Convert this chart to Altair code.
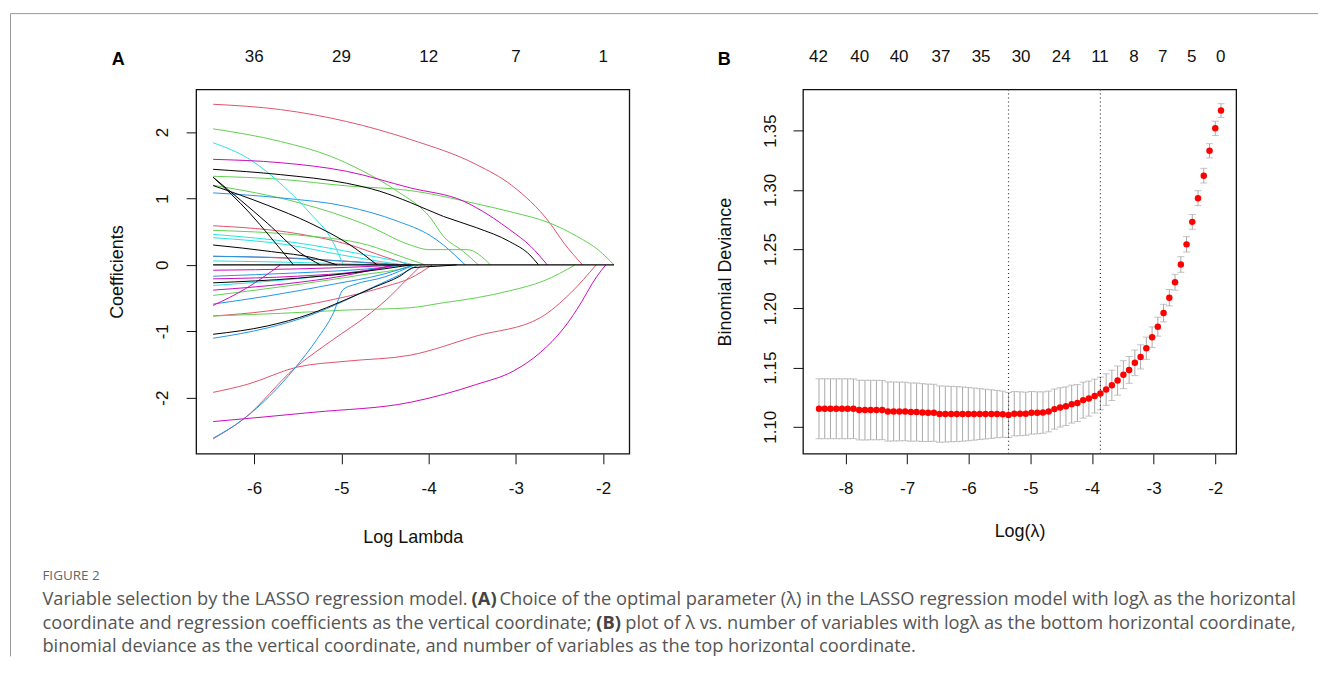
import altair as alt
import pandas as pd

# ---------------- Panel A: LASSO coefficient paths (log lambda, coefficient) ----------------
RED_PATHS = [
    [(-6.47, 2.42), (-5.70, 2.34), (-4.94, 2.16), (-4.21, 1.89), (-3.45, 1.51), (-3.05, 1.20), (-2.61, 0.63), (-2.45, 0.33), (-2.235, 0.0)],
    [(-6.47, 0.59), (-5.50, 0.47), (-4.90, 0.30), (-4.50, 0.12), (-4.22, 0.0)],
    [(-6.47, 0.13), (-5.80, 0.11), (-5.00, 0.06), (-4.25, 0.0)],
    [(-6.47, -1.92), (-6.08, -1.80), (-5.51, -1.54), (-4.94, -1.45), (-4.21, -1.36), (-3.45, -1.07), (-2.72, -0.795), (-2.37, -0.42), (-2.08, 0.0)],
    [(-6.47, -2.62), (-6.12, -2.32), (-5.53, -1.55), (-5.09, -1.12), (-4.71, -0.77), (-4.48, -0.52), (-4.25, -0.22), (-4.08, 0.0)],
    [(-6.47, -0.77), (-5.85, -0.695), (-5.09, -0.52), (-4.48, -0.32), (-4.21, -0.20), (-3.96, 0.0)],
]
GREEN_PATHS = [
    [(-6.47, 2.05), (-5.70, 1.86), (-5.13, 1.64), (-4.75, 1.41), (-4.36, 1.11), (-3.98, 0.71), (-3.83, 0.43), (-3.60, 0.20), (-3.43, 0.0)],
    [(-6.47, 1.335), (-5.70, 1.29), (-4.94, 1.19), (-4.21, 1.12), (-3.45, 0.92), (-3.03, 0.79), (-2.61, 0.63), (-2.30, 0.43), (-2.05, 0.22), (-1.875, 0.0)],
    [(-6.47, 1.20), (-5.47, 0.93), (-4.71, 0.60), (-4.21, 0.30), (-4.00, 0.23), (-3.56, 0.23), (-3.29, 0.0)],
    [(-6.47, 0.52), (-5.50, 0.45), (-4.70, 0.30), (-4.30, 0.12), (-4.04, 0.0)],
    [(-6.47, -0.77), (-5.70, -0.73), (-4.94, -0.68), (-4.21, -0.645), (-3.83, -0.57), (-3.45, -0.495), (-3.07, -0.39), (-2.68, -0.24), (-2.32, 0.0)],
    [(-6.47, -0.46), (-5.47, -0.29), (-4.71, -0.14), (-4.25, -0.04), (-4.15, 0.0)],
]
BLUE_PATHS = [
    [(-6.47, 1.085), (-5.70, 1.01), (-4.94, 0.88), (-4.36, 0.66), (-3.98, 0.44), (-3.83, 0.30), (-3.71, 0.16), (-3.58, 0.0)],
    [(-6.47, 0.13), (-5.50, 0.10), (-4.80, 0.04), (-4.40, 0.0)],
    [(-6.47, -2.61), (-6.12, -2.32), (-5.53, -1.55), (-5.28, -1.12), (-5.09, -0.72), (-4.98, -0.37), (-4.86, -0.30), (-4.50, -0.18), (-4.17, 0.0)],
    [(-6.47, -1.105), (-5.85, -0.95), (-5.36, -0.76), (-4.98, -0.55), (-4.63, -0.33), (-4.33, -0.15), (-4.12, 0.0)],
    [(-6.47, -0.59), (-5.85, -0.47), (-5.09, -0.29), (-4.52, -0.14), (-4.17, 0.0)],
    [(-6.47, -0.17), (-5.50, -0.12), (-4.70, -0.06), (-4.25, 0.0)],
]
CYAN_PATHS = [
    [(-6.47, 1.84), (-6.05, 1.59), (-5.66, 1.18), (-5.36, 0.78), (-5.09, 0.33), (-4.98, 0.0)],
    [(-6.47, 0.46), (-5.50, 0.33), (-4.80, 0.17), (-4.30, 0.04), (-4.16, 0.0)],
    [(-6.47, 0.41), (-5.60, 0.30), (-5.00, 0.15), (-4.50, 0.04), (-4.30, 0.0)],
    [(-6.47, 0.06), (-5.60, 0.04), (-4.80, 0.01), (-4.50, 0.0)],
    [(-6.47, -0.31), (-5.60, -0.22), (-4.90, -0.12), (-4.30, 0.0)],
]
MAGENTA_PATHS = [
    [(-6.47, 1.59), (-5.70, 1.54), (-4.94, 1.41), (-4.21, 1.16), (-3.60, 0.96), (-3.45, 0.86), (-3.07, 0.53), (-2.83, 0.28), (-2.64, 0.0)],
    [(-6.47, -2.36), (-5.32, -2.22), (-4.21, -2.07), (-3.45, -1.80), (-3.03, -1.60), (-2.72, -1.32), (-2.45, -0.95), (-2.30, -0.67), (-2.07, -0.17), (-1.97, 0.0)],
    [(-6.47, -0.61), (-6.10, -0.36), (-5.70, 0.0)],
    [(-6.47, -0.08), (-5.50, -0.06), (-4.80, -0.03), (-4.30, 0.0)],
    [(-6.47, -0.21), (-5.50, -0.17), (-4.80, -0.10), (-4.35, 0.0)],
    [(-6.47, -0.38), (-5.60, -0.28), (-5.00, -0.17), (-4.40, 0.0)],
]
BLACK_PATHS = [
    [(-6.47, 1.44), (-5.70, 1.36), (-4.94, 1.23), (-4.56, 1.11), (-4.21, 0.94), (-3.83, 0.73), (-3.45, 0.56), (-3.07, 0.35), (-2.84, 0.15), (-2.74, 0.0)],
    [(-6.47, 1.32), (-6.05, 0.78), (-5.82, 0.43), (-5.55, 0.0)],
    [(-6.47, 1.32), (-5.85, 0.63), (-5.47, 0.18), (-5.24, 0.0)],
    [(-6.47, 1.195), (-5.85, 0.90), (-5.36, 0.63), (-4.90, 0.30), (-4.59, 0.0)],
    [(-6.47, 0.30), (-5.80, 0.20), (-5.30, 0.10), (-5.05, 0.0)],
    [(-6.47, -1.045), (-5.85, -0.92), (-5.36, -0.74), (-4.98, -0.54), (-4.63, -0.34), (-4.33, -0.17), (-4.17, -0.04), (-3.90, -0.02), (-3.68, 0.0)],
    [(-6.47, -0.27), (-5.50, -0.20), (-4.80, -0.11), (-4.20, 0.0)],
]
ZERO_SPAN = [-6.47, -1.875]

PATH_COLORS = {
    "red": "#DF536B", "green": "#61D04F", "blue": "#2297E6",
    "cyan": "#28E2E5", "magenta": "#CD0BBC", "black": "#000000",
}

TOP_A_POS = [-6, -5, -4, -3, -2]
TOP_A_LABELS = ["36", "29", "12", "7", "1"]

# ---------------- Panel B: cross-validated binomial deviance ----------------
LOG_LAMBDA = [
    -1.906, -1.999, -2.092, -2.186, -2.279, -2.372, -2.465, -2.558, -2.652, -2.745,
    -2.838, -2.931, -3.024, -3.118, -3.211, -3.304, -3.397, -3.490, -3.584, -3.677,
    -3.770, -3.863, -3.956, -4.050, -4.143, -4.236, -4.329, -4.422, -4.516, -4.609,
    -4.702, -4.795, -4.888, -4.982, -5.075, -5.168, -5.261, -5.354, -5.448, -5.541,
    -5.634, -5.727, -5.820, -5.914, -6.007, -6.100, -6.193, -6.286, -6.380, -6.473,
    -6.566, -6.659, -6.752, -6.846, -6.939, -7.032, -7.125, -7.218, -7.312, -7.405,
    -7.498, -7.591, -7.684, -7.778, -7.871, -7.964, -8.057, -8.150, -8.244, -8.337,
    -8.430,
]
DEVIANCE = [
    1.367, 1.352, 1.333, 1.312, 1.293, 1.273, 1.254, 1.237, 1.222, 1.209,
    1.196, 1.1845, 1.1756, 1.1663, 1.159, 1.154, 1.148, 1.144, 1.139, 1.135,
    1.1314, 1.1281, 1.1259, 1.1238, 1.1225, 1.1200, 1.1191, 1.1174, 1.1163, 1.1149,
    1.1129, 1.1120, 1.1118, 1.1118, 1.1110, 1.1110, 1.1110, 1.1099, 1.1106, 1.1107,
    1.1107, 1.1107, 1.1107, 1.1107, 1.1107, 1.1107, 1.1107, 1.1107, 1.1107, 1.1107,
    1.1118, 1.1118, 1.1120, 1.1124, 1.1124, 1.1129, 1.1129, 1.1129, 1.1129, 1.1141,
    1.1141, 1.1141, 1.1141, 1.1141, 1.1152, 1.1152, 1.1152, 1.1152, 1.1152, 1.1152,
    1.1152,
]
STD_ERR = [
    0.0058, 0.0060, 0.0060, 0.0062, 0.0063, 0.0063, 0.0065, 0.0066, 0.0067, 0.0069,
    0.0074, 0.0080, 0.0087, 0.0094, 0.0102, 0.0108, 0.0113, 0.0118, 0.0123, 0.0128,
    0.0133, 0.0138, 0.0143, 0.0148, 0.0152, 0.0156, 0.0160, 0.0163, 0.0166, 0.0169,
    0.0172, 0.0175, 0.0177, 0.0180, 0.0182, 0.0185, 0.0187, 0.0190, 0.0195, 0.0200,
    0.0205, 0.0210, 0.0215, 0.0220, 0.0225, 0.0229, 0.0232, 0.0234, 0.0236, 0.0238,
    0.0240, 0.0242, 0.0244, 0.0245, 0.0246, 0.0247, 0.0248, 0.0249, 0.0250, 0.0250,
    0.0251, 0.0251, 0.0252, 0.0252, 0.0252, 0.0253, 0.0253, 0.0253, 0.0253, 0.0253,
    0.0253,
]
LAMBDA_MIN = -5.354
LAMBDA_1SE = -3.863
TOP_B_POS = [-8.44, -7.77, -7.13, -6.45, -5.80, -5.15, -4.50, -3.87, -3.32, -2.85, -2.38, -1.91]
TOP_B_LABELS = ["42", "40", "40", "37", "35", "30", "24", "11", "8", "7", "5", "0"]

CAPTION_HEAD = "FIGURE 2"
CAPTION_SEGMENTS = [
    # (line, x-offset from panel A left edge, text, bold)
    (0, -154, "Variable selection by the LASSO regression model.", False),
    (0, 276, "(A)", True),
    (0, 304, "Choice of the optimal parameter (λ) in the LASSO regression model with logλ as the horizontal", False),
    (1, -154, "coordinate and regression coefficients as the vertical coordinate;", False),
    (1, 401, "(B)", True),
    (1, 430, "plot of λ vs. number of variables with logλ as the bottom horizontal coordinate,", False),
    (2, -154, "binomial deviance as the vertical coordinate, and number of variables as the top horizontal coordinate.", False),
]

FONT = "Liberation Sans"
CAP_FONT = "Open Sans"
W, H = 434, 365

# ---------------- build panel A ----------------
rows = []
pid = 0
for cname, group in [("red", RED_PATHS), ("green", GREEN_PATHS), ("blue", BLUE_PATHS),
                     ("cyan", CYAN_PATHS), ("magenta", MAGENTA_PATHS), ("black", BLACK_PATHS)]:
    for path in group:
        for i, (lx, cy) in enumerate(path):
            rows.append({"pid": pid, "i": i, "x": lx, "y": cy, "col": PATH_COLORS[cname]})
        pid += 1
paths_df = pd.DataFrame(rows)

xA = alt.Scale(domain=[-6.665, -1.70], nice=False, zero=False)
yA = alt.Scale(domain=[-2.845, 2.643], nice=False, zero=False)

lines = alt.Chart(paths_df).mark_line(strokeWidth=1, interpolate="monotone", clip=True).encode(
    x=alt.X("x:Q", scale=xA, axis=alt.Axis(
        values=[-6, -5, -4, -3, -2], title="Log Lambda", labelExpr="'' + datum.value",
        titleY=84, titleBaseline="middle", labelPadding=17)),
    y=alt.Y("y:Q", scale=yA, axis=alt.Axis(
        values=[-2, -1, 0, 1, 2], title="Coefficients", labelExpr="'' + datum.value",
        labelAngle=270, labelAlign="center", labelBaseline="bottom", labelPadding=15,
        titleX=-79, titleY=H / 2, titleBaseline="middle", titleAlign="center")),
    detail="pid:N",
    order="i:Q",
    color=alt.Color("col:N", scale=None),
)

zero_df = pd.DataFrame({"x": [ZERO_SPAN[0]], "x2": [ZERO_SPAN[1]], "y": [0.0]})
zero_line = alt.Chart(zero_df).mark_rule(color="black", strokeWidth=1.4).encode(
    x=alt.X("x:Q", scale=xA), x2="x2", y=alt.Y("y:Q", scale=yA))

topA_df = pd.DataFrame({"x": TOP_A_POS, "t": TOP_A_LABELS})
topA = alt.Chart(topA_df).mark_text(font=FONT, fontSize=17, baseline="middle", color="#111").encode(
    x=alt.X("x:Q", scale=xA), y=alt.value(-33), text="t:N")

letterA = alt.Chart(pd.DataFrame({"t": ["A"]})).mark_text(
    font=FONT, fontSize=18, fontWeight="bold", baseline="middle").encode(
    x=alt.value(-78), y=alt.value(-30), text="t:N")

# figure frame (left and top border)
frame_left = alt.Chart(pd.DataFrame({"a": [0]})).mark_rule(color="#9a9a9a", strokeWidth=1).encode(
    x=alt.value(-186), y=alt.value(-76), y2=alt.value(568))
frame_top = alt.Chart(pd.DataFrame({"a": [0]})).mark_rule(color="#9a9a9a", strokeWidth=1).encode(
    x=alt.value(-186), x2=alt.value(1124), y=alt.value(-76))

cap_head = alt.Chart(pd.DataFrame({"t": [CAPTION_HEAD]})).mark_text(
    font=CAP_FONT, fontSize=13.5, align="left", baseline="middle", color="#666").encode(
    x=alt.value(-154), y=alt.value(487), text="t:N")

cap_rows = [{"line": ln, "xo": xo, "t": t, "b": "bold" if b else "normal"} for ln, xo, t, b in CAPTION_SEGMENTS]
cap_df = pd.DataFrame(cap_rows)
cap_df["yo"] = cap_df["line"].map({0: 512, 1: 536, 2: 559})
cap_normal = alt.Chart(cap_df[cap_df["b"] == "normal"]).mark_text(
    font=CAP_FONT, fontSize=18.3, align="left", baseline="middle", color="#555").encode(
    x=alt.X("xo:Q", scale=None), y=alt.Y("yo:Q", scale=None), text="t:N")
cap_bold = alt.Chart(cap_df[cap_df["b"] == "bold"]).mark_text(
    font=CAP_FONT, fontSize=18.3, fontWeight="bold", align="left", baseline="middle", color="#444").encode(
    x=alt.X("xo:Q", scale=None), y=alt.Y("yo:Q", scale=None), text="t:N")

panelA = alt.layer(lines, zero_line, topA, letterA, frame_left, frame_top, cap_head, cap_normal, cap_bold).properties(
    width=W, height=H)

# ---------------- build panel B ----------------
cv_df = pd.DataFrame({"x": LOG_LAMBDA, "dev": DEVIANCE, "se": STD_ERR})
cv_df["lo"] = cv_df["dev"] - cv_df["se"]
cv_df["hi"] = cv_df["dev"] + cv_df["se"]

xB = alt.Scale(domain=[-8.69, -1.66], nice=False, zero=False)
yB = alt.Scale(domain=[1.0772, 1.3848], nice=False, zero=False)

bars = alt.Chart(cv_df).mark_rule(color="#A9A9A9", strokeWidth=1).encode(
    x=alt.X("x:Q", scale=xB, axis=alt.Axis(
        values=[-8, -7, -6, -5, -4, -3, -2], title="Log(λ)", labelExpr="'' + datum.value",
        titleY=78, titleBaseline="middle", labelPadding=17)),
    y=alt.Y("lo:Q", scale=yB, axis=alt.Axis(
        values=[1.10, 1.15, 1.20, 1.25, 1.30, 1.35], title="Binomial Deviance",
        labelExpr="format(datum.value, '.2f')",
        labelAngle=270, labelAlign="center", labelBaseline="bottom", labelPadding=14,
        titleX=-78, titleY=H / 2, titleBaseline="middle", titleAlign="center")),
    y2="hi:Q",
)
caps_lo = alt.Chart(cv_df).mark_tick(orient="horizontal", size=7, thickness=1, color="#A9A9A9").encode(
    x=alt.X("x:Q", scale=xB), y=alt.Y("lo:Q", scale=yB))
caps_hi = alt.Chart(cv_df).mark_tick(orient="horizontal", size=7, thickness=1, color="#A9A9A9").encode(
    x=alt.X("x:Q", scale=xB), y=alt.Y("hi:Q", scale=yB))
pts = alt.Chart(cv_df).mark_circle(size=42, color="#FF0000", opacity=1).encode(
    x=alt.X("x:Q", scale=xB), y=alt.Y("dev:Q", scale=yB))

vl_df = pd.DataFrame({"x": [LAMBDA_MIN, LAMBDA_1SE]})
vlines = alt.Chart(vl_df).mark_rule(color="#333", strokeDash=[1, 3], strokeWidth=1.2).encode(
    x=alt.X("x:Q", scale=xB))

topB_df = pd.DataFrame({"x": TOP_B_POS, "t": TOP_B_LABELS})
topB = alt.Chart(topB_df).mark_text(font=FONT, fontSize=17, baseline="middle", color="#111").encode(
    x=alt.X("x:Q", scale=xB), y=alt.value(-33), text="t:N")

letterB = alt.Chart(pd.DataFrame({"t": ["B"]})).mark_text(
    font=FONT, fontSize=18, fontWeight="bold", baseline="middle").encode(
    x=alt.value(-79), y=alt.value(-30), text="t:N")

panelB = alt.layer(bars, caps_lo, caps_hi, vlines, pts, topB, letterB).properties(width=W, height=H)

chart = alt.hconcat(panelA, panelB, spacing=174, bounds="flush").properties(
    padding={"left": 8.5, "top": 11, "right": 0, "bottom": 0},
    background="white",
).configure_view(
    stroke="#111", strokeWidth=1.3,
).configure_axis(
    domain=False, tickColor="#111", tickSize=10, tickWidth=1,
    labelFont=FONT, labelFontSize=17, labelColor="#111",
    titleFont=FONT, titleFontSize=18, titleFontWeight="normal", titleColor="#111",
    grid=False,
)

chart.save("out.html", embed_options={"renderer": "svg", "actions": False})
